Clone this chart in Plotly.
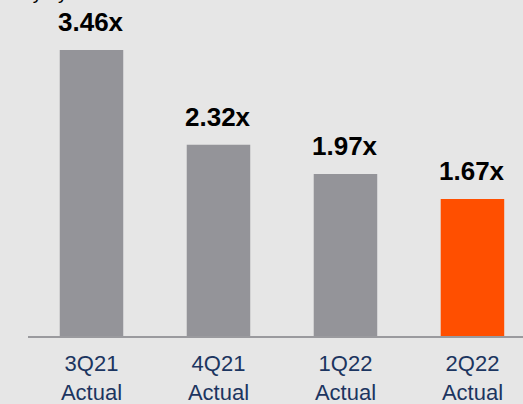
import plotly.graph_objects as go

categories = ["3Q21", "4Q21", "1Q22", "2Q22"]
tick_labels = ["3Q21<br>Actual", "4Q21<br>Actual", "1Q22<br>Actual", "2Q22<br>Actual"]
values = [3.46, 2.32, 1.97, 1.67]
value_labels = ["3.46x", "2.32x", "1.97x", "1.67x"]
colors = ["#949499", "#949499", "#949499", "#ff4f00"]
title_text = "Quarterly by"

fig = go.Figure()
fig.add_trace(go.Bar(
    x=categories, y=values, width=0.5,
    marker=dict(color=colors, line=dict(width=0)),
    hoverinfo="skip",
))
for c, v, t in zip(categories, values, value_labels):
    fig.add_annotation(x=c, y=v, text=t, showarrow=False, yanchor="bottom",
                       yshift=11, font=dict(family="Arial", size=26, color="#000000", weight="bold"))

fig.add_annotation(x=0.0848, xref="paper", y=1.0, yref="paper", yanchor="bottom", xanchor="right",
                   yshift=-5, text=title_text, showarrow=False,
                   font=dict(family="Arial", size=19, color="#000000"))

fig.add_shape(type="line", xref="paper", yref="y", x0=0, x1=1, y0=0, y1=0,
              line=dict(color="#9a9a9e", width=4))

fig.update_layout(
    width=523, height=404,
    margin=dict(l=28, r=0, t=0, b=66),
    paper_bgcolor="#e6e6e6", plot_bgcolor="#e6e6e6",
    showlegend=False,
    bargap=0.5,
)
fig.update_xaxes(range=[-0.5, 3.398], tickvals=categories, ticktext=tick_labels,
                 tickfont=dict(family="Arial", size=22, color="#1c3560"),
                 showgrid=False, zeroline=False, showline=False, ticks="",
                 ticklabelstandoff=10, automargin=False)
fig.update_yaxes(range=[0, 4.06], visible=False, showgrid=False, zeroline=False, automargin=False)

fig.write_html("out.html")
